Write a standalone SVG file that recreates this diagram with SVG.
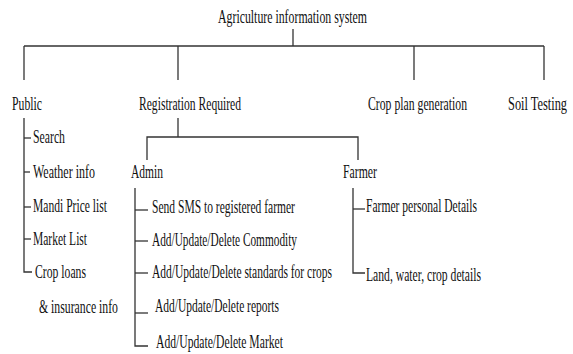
<svg xmlns="http://www.w3.org/2000/svg" width="573" height="354" viewBox="0 0 573 354">
<style>
text{font-family:"Liberation Serif","Times New Roman",serif;font-size:19px;fill:#111;}
.c line,.c polyline{stroke:#333;stroke-width:1.3;fill:none;}
</style>
<rect width="573" height="354" fill="#fff"/>
<g class="c" id="connectors">
<line x1="293" y1="29" x2="293" y2="46"/>
<line x1="24" y1="46" x2="544" y2="46"/>
<line x1="24" y1="46" x2="24" y2="80"/>
<line x1="178" y1="46" x2="178" y2="80"/>
<line x1="414" y1="46" x2="414" y2="80"/>
<line x1="544" y1="46" x2="544" y2="80"/>
<polyline points="24,118 24,272 32,272"/>
<line x1="24" y1="138" x2="31" y2="138"/>
<line x1="24" y1="172" x2="30" y2="172"/>
<line x1="24" y1="207" x2="31" y2="207"/>
<line x1="24" y1="239" x2="31" y2="239"/>
<line x1="178" y1="118" x2="178" y2="137"/>
<polyline points="147,160 147,137 358,137 358,160"/>
<polyline points="135,188 135,346 148,346"/>
<line x1="135" y1="210" x2="148" y2="210"/>
<line x1="135" y1="241" x2="148" y2="241"/>
<line x1="135" y1="273" x2="148" y2="273"/>
<line x1="135" y1="313" x2="148" y2="313"/>
<polyline points="353,188 353,273 365,273"/>
<line x1="353" y1="209" x2="365" y2="209"/>
</g>
<g id="root"><text transform="translate(218,23) scale(0.62,1)" textLength="240.3" lengthAdjust="spacingAndGlyphs">Agriculture information system</text></g>
<g id="public"><text transform="translate(12,110) scale(0.62,1)" textLength="48.4" lengthAdjust="spacingAndGlyphs">Public</text></g>
<g id="registration"><text transform="translate(139,110) scale(0.62,1)" textLength="164.5" lengthAdjust="spacingAndGlyphs">Registration Required</text></g>
<g id="cropplan"><text transform="translate(368,110) scale(0.62,1)" textLength="159.7" lengthAdjust="spacingAndGlyphs">Crop plan generation</text></g>
<g id="soil"><text transform="translate(508,110) scale(0.62,1)" textLength="95.2" lengthAdjust="spacingAndGlyphs">Soil Testing</text></g>
<g id="search"><text transform="translate(33,143) scale(0.62,1)" textLength="51.6" lengthAdjust="spacingAndGlyphs">Search</text></g>
<g id="weather"><text transform="translate(33,178) scale(0.62,1)" textLength="100" lengthAdjust="spacingAndGlyphs">Weather info</text></g>
<g id="mandi"><text transform="translate(33,212) scale(0.62,1)" textLength="119.4" lengthAdjust="spacingAndGlyphs">Mandi Price list</text></g>
<g id="market"><text transform="translate(33,245) scale(0.62,1)" textLength="87.1" lengthAdjust="spacingAndGlyphs">Market List</text></g>
<g id="croploans"><text transform="translate(35,278) scale(0.62,1)" textLength="82.3" lengthAdjust="spacingAndGlyphs">Crop loans</text><text transform="translate(39,313) scale(0.62,1)" textLength="127.4" lengthAdjust="spacingAndGlyphs">&amp; insurance info</text></g>
<g id="admin"><text transform="translate(131,178) scale(0.62,1)" textLength="51.6" lengthAdjust="spacingAndGlyphs">Admin</text></g>
<g id="farmer"><text transform="translate(343,178) scale(0.62,1)" textLength="54.8" lengthAdjust="spacingAndGlyphs">Farmer</text></g>
<g id="sms"><text transform="translate(152,213) scale(0.62,1)" textLength="230.6" lengthAdjust="spacingAndGlyphs">Send SMS to registered farmer</text></g>
<g id="commodity"><text transform="translate(152,246) scale(0.62,1)" textLength="233.9" lengthAdjust="spacingAndGlyphs">Add/Update/Delete Commodity</text></g>
<g id="standards"><text transform="translate(152,278) scale(0.62,1)" textLength="290.3" lengthAdjust="spacingAndGlyphs">Add/Update/Delete standards for crops</text></g>
<g id="reports"><text transform="translate(155,312) scale(0.62,1)" textLength="200" lengthAdjust="spacingAndGlyphs">Add/Update/Delete reports</text></g>
<g id="marketadmin"><text transform="translate(156,348) scale(0.62,1)" textLength="204.8" lengthAdjust="spacingAndGlyphs">Add/Update/Delete Market</text></g>
<g id="personal"><text transform="translate(366,212) scale(0.62,1)" textLength="179" lengthAdjust="spacingAndGlyphs">Farmer personal Details</text></g>
<g id="land"><text transform="translate(366,281) scale(0.62,1)" textLength="185.5" lengthAdjust="spacingAndGlyphs">Land, water, crop details</text></g>
</svg>
